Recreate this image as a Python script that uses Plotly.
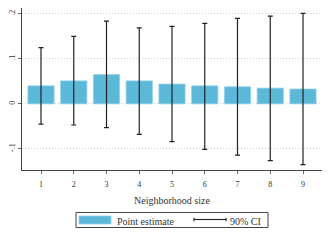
import plotly.graph_objects as go

sizes = [1, 2, 3, 4, 5, 6, 7, 8, 9]
estimates = [0.040, 0.051, 0.065, 0.051, 0.044, 0.040, 0.038, 0.035, 0.033]
ci_upper = [0.125, 0.150, 0.184, 0.169, 0.172, 0.179, 0.190, 0.195, 0.201]
ci_lower = [-0.045, -0.047, -0.053, -0.068, -0.084, -0.101, -0.114, -0.126, -0.135]
ytick_vals = [-0.1, 0, 0.1, 0.2]
ytick_text = ["-.1", "0", ".1", ".2"]
legend_labels = ["Point estimate", "90% CI"]
x_title = "Neighborhood size"

err_plus = [u - e for u, e in zip(ci_upper, estimates)]
err_minus = [e - l for e, l in zip(estimates, ci_lower)]

font = "Liberation Serif"
bar_color = "#5cb8d9"
ci_color = "#222222"
text_color = "#333333"

OFF = 8  # page body margin
W, H = 330 - OFF, 240 - OFF
# plot area in screen pixels: x 22..322, y 8..170
L, R, T, B = 22 - OFF, W - (322 - OFF), 8 - OFF, H - (170 - OFF)
pw, ph = W - L - R, H - T - B


def px(x):
    return (x - OFF - L) / pw


def py(y):
    return (H - B - (y - OFF)) / ph


fig = go.Figure()
fig.add_trace(go.Bar(
    x=sizes, y=estimates, width=0.8, name=legend_labels[0], showlegend=False,
    marker=dict(color=bar_color, line=dict(color="#8fd0e8", width=0.8)),
))
fig.add_trace(go.Scatter(
    x=sizes, y=estimates, mode="markers", showlegend=False, name=legend_labels[1],
    marker=dict(size=0.1, color="rgba(0,0,0,0)"),
    error_y=dict(type="data", symmetric=False, array=err_plus, arrayminus=err_minus,
                 color=ci_color, thickness=1.2, width=2.5),
))

shapes = [
    dict(type="rect", xref="paper", yref="paper", x0=px(76), x1=px(268), y0=py(212.5), y1=py(227.5),
         line=dict(color="#444444", width=1), fillcolor="white"),
    dict(type="rect", xref="paper", yref="paper", x0=px(79), x1=px(111), y0=py(216), y1=py(224),
         line=dict(color="#8fd0e8", width=0.8), fillcolor=bar_color),
    dict(type="line", xref="paper", yref="paper", x0=px(194), x1=px(226), y0=py(219.5), y1=py(219.5),
         line=dict(color=ci_color, width=1.1)),
    dict(type="line", xref="paper", yref="paper", x0=px(194), x1=px(194), y0=py(217.8), y1=py(221.2),
         line=dict(color=ci_color, width=1.1)),
    dict(type="line", xref="paper", yref="paper", x0=px(226), x1=px(226), y0=py(217.8), y1=py(221.2),
         line=dict(color=ci_color, width=1.1)),
]
annotations = [
    dict(text=legend_labels[0], xref="paper", yref="paper", x=px(115), y=py(221.5), xanchor="left",
         yanchor="middle", showarrow=False, font=dict(size=10, color=text_color, family=font)),
    dict(text=legend_labels[1], xref="paper", yref="paper", x=px(228), y=py(221), xanchor="left",
         yanchor="middle", showarrow=False, font=dict(size=10, color=text_color, family=font)),
    dict(text=x_title, xref="paper", yref="paper", x=0.5, y=py(200.5), xanchor="center",
         yanchor="middle", showarrow=False, font=dict(size=10, color=text_color, family=font)),
]

fig.update_layout(
    width=W, height=H,
    margin=dict(l=L, r=R, t=T, b=B, pad=0, autoexpand=False),
    paper_bgcolor="white", plot_bgcolor="white",
    font=dict(family=font, size=8, color=text_color),
    showlegend=False,
    shapes=shapes, annotations=annotations,
    xaxis=dict(
        range=[0.42, 9.58], tickmode="array", tickvals=sizes, automargin=False,
        ticks="outside", ticklen=3, tickcolor="#666666", ticklabelstandoff=3,
        showline=True, linecolor="#444444", linewidth=1,
        showgrid=False, zeroline=False,
    ),
    yaxis=dict(
        range=[-0.147, 0.213], tickmode="array", tickvals=ytick_vals, ticktext=ytick_text,
        automargin=False,
        tickangle=-90, ticks="outside", ticklen=3, tickcolor="#666666",
        showline=True, linecolor="#444444", linewidth=1,
        showgrid=True, gridcolor="#cfcfcf", griddash="1px,2px", gridwidth=1,
        zeroline=False,
    ),
)

fig.write_html("out.html")
